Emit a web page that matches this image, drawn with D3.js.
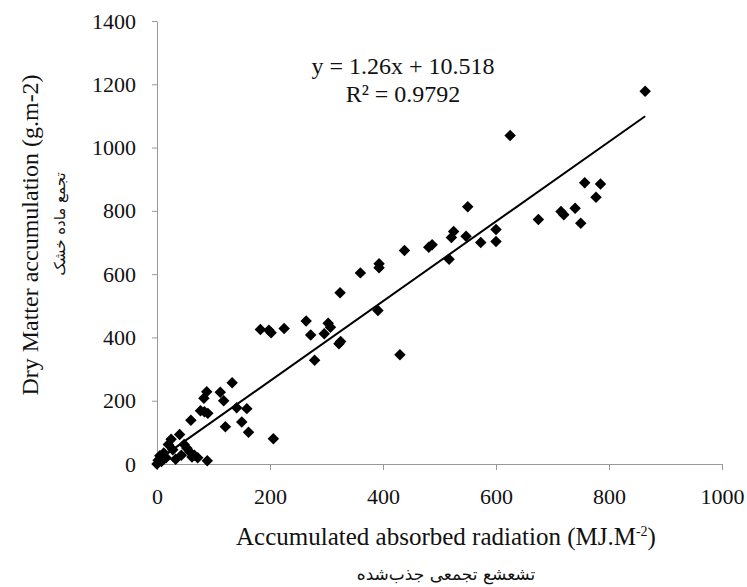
<!DOCTYPE html>
<html>
<head>
<meta charset="utf-8">
<script src="https://cdn.jsdelivr.net/npm/d3@7"></script>
<style>
  body { margin: 0; background: #fff; }
  svg { display: block; }
  text { font-family: "Liberation Serif", "Times New Roman", serif; fill: #111; }
  .fa { font-family: "DejaVu Sans", sans-serif; }
</style>
</head>
<body>
<svg id="chart" width="747" height="587"></svg>
<script>
// absorbed radiation (MJ.M-2) and dry matter (g.m-2)
const radiation = [
  0, 2, 5, 8, 12, 16, 20, 25, 28, 33, 40, 43, 48, 53, 58, 62, 66, 72, 89,
  60, 77, 84, 90, 83, 88, 112, 118, 133, 121, 141, 150, 159, 162, 206,
  183, 198, 202, 225, 264, 272, 279, 296, 303, 307, 322, 325, 324, 360, 391, 393, 393, 430, 438,
  481, 487, 517, 521, 525, 547, 550, 573, 600, 600, 625, 675, 715, 720, 740, 750, 757, 777, 785, 864
];
const dryMatter = [
  0, 12, 26, 8, 35, 20, 62, 78, 45, 15, 93, 28, 62, 50, 38, 22, 28, 20, 10,
  138, 168, 165, 160, 208, 228, 227, 200, 257, 118, 178, 133, 175, 100, 80,
  425, 423, 415, 428, 452, 408, 328, 412, 445, 432, 380, 387, 541, 604, 485, 620, 633, 345, 675,
  685, 693, 647, 716, 735, 720, 813, 700, 741, 703, 1038, 773, 798, 788, 808, 761, 889, 843, 885, 1178
];
const xTicks = [0, 200, 400, 600, 800, 1000];
const yTicks = [0, 200, 400, 600, 800, 1000, 1200, 1400];
const slope = 1.26, intercept = 10.518;

const svg = d3.select("#chart");
const x = d3.scaleLinear().domain([0, 1000]).range([157, 722]);
const y = d3.scaleLinear().domain([0, 1400]).range([464, 21]);

// axes
const xAxis = svg.append("g")
  .attr("transform", `translate(0, ${y(0)})`)
  .call(d3.axisBottom(x).tickValues(xTicks).tickFormat(d3.format("d"))
    .tickSize(6).tickPadding(18).tickSizeOuter(0));
const yAxis = svg.append("g")
  .attr("transform", `translate(${x(0)}, 0)`)
  .call(d3.axisLeft(y).tickValues(yTicks).tickFormat(d3.format("d"))
    .tickSize(5).tickPadding(16).tickSizeOuter(0));

[xAxis, yAxis].forEach((g) => {
  g.select(".domain").attr("stroke", "#999");
  g.selectAll(".tick line").attr("stroke", "#999");
  g.selectAll(".tick text")
    .attr("font-size", 22)
    .attr("fill", "#111");
});

// trend line
const xExt = d3.extent(radiation);
svg.append("line")
  .attr("x1", x(xExt[0]))
  .attr("y1", y(slope * xExt[0] + intercept))
  .attr("x2", x(xExt[1]))
  .attr("y2", y(slope * xExt[1] + intercept))
  .attr("stroke", "#000")
  .attr("stroke-width", 2);

// points
const diamond = d3.symbol(d3.symbolSquare, 66);
svg.append("g")
  .selectAll("path")
  .data(radiation.map((r, i) => [r, dryMatter[i]]))
  .enter()
  .append("path")
  .attr("d", diamond)
  .attr("transform", (d) => `translate(${x(d[0])}, ${y(d[1])}) rotate(45)`)
  .attr("fill", "#000");

// equation
svg.append("text")
  .attr("x", 403).attr("y", 74)
  .attr("text-anchor", "middle")
  .attr("font-size", 24)
  .text(`y = ${slope}x + ${intercept}`);
svg.append("text")
  .attr("x", 403).attr("y", 102)
  .attr("text-anchor", "middle")
  .attr("font-size", 24)
  .text("R² = 0.9792");

// axis titles
const xTitle = svg.append("text")
  .attr("x", 446).attr("y", 545)
  .attr("text-anchor", "middle")
  .attr("font-size", 25);
xTitle.append("tspan").text("Accumulated absorbed radiation (MJ.M");
xTitle.append("tspan").attr("font-size", 14).attr("dy", -9).text("-2");
xTitle.append("tspan").attr("dy", 9).text(")");

svg.append("text")
  .attr("class", "fa")
  .attr("x", 446).attr("y", 580)
  .attr("text-anchor", "middle")
  .attr("font-size", 17)
  .text("تشعشع تجمعی جذب\u200cشده");

svg.append("text")
  .attr("transform", "translate(38, 235) rotate(-90)")
  .attr("text-anchor", "middle")
  .attr("font-size", 24)
  .text("Dry Matter accumulation (g.m-2)");

svg.append("text")
  .attr("class", "fa")
  .attr("transform", "translate(65, 224) rotate(-90)")
  .attr("text-anchor", "middle")
  .attr("font-size", 15)
  .text("تجمع ماده خشک");
</script>
</body>
</html>
